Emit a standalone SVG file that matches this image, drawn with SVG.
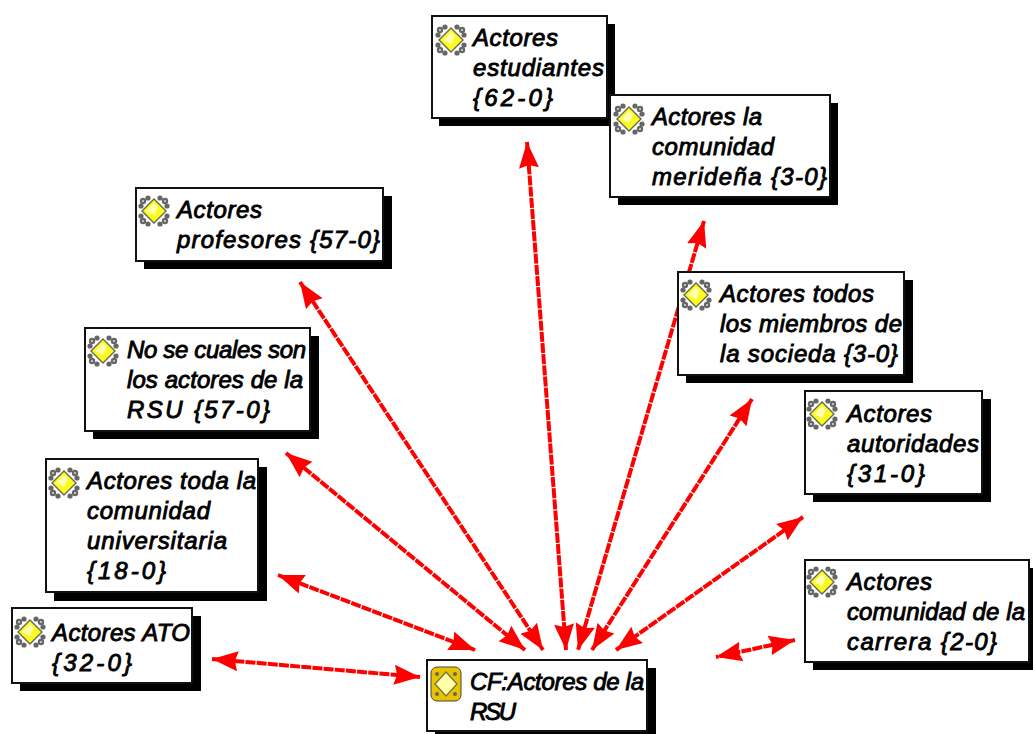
<svg xmlns="http://www.w3.org/2000/svg" width="1033" height="734" viewBox="0 0 1033 734">
<style>
.b{fill:#fff;stroke:#111;stroke-width:2}
.s{fill:#000}
text{font-family:"Liberation Sans",Arial,sans-serif;font-style:italic;font-size:24px;fill:#000;stroke:#000;stroke-width:.9px;lengthAdjust:spacing}
.c{fill:none;stroke:#f00;stroke-width:4;stroke-dasharray:10 1.2;marker-start:url(#a);marker-end:url(#a)}
</style>
<defs>
<marker id="a" markerUnits="userSpaceOnUse" markerWidth="30" markerHeight="24" refX="26" refY="12" orient="auto-start-reverse"><path d="M0 2 L26 12 L0 22 L3 12Z" fill="#f00"/></marker>
<g id="i"><g fill="#666"><circle cx="-11" cy="-10" r="3.2"/><circle cx="11" cy="-10" r="3.2"/><circle cx="-11" cy="10" r="3.2"/><circle cx="11" cy="10" r="3.2"/><circle cx="-6" cy="-13" r="2.6"/><circle cx="6" cy="-13" r="2.6"/><circle cx="-6" cy="13" r="2.6"/><circle cx="6" cy="13" r="2.6"/><circle cx="-13" cy="-5" r="2.6"/><circle cx="13" cy="-5" r="2.6"/><circle cx="-13" cy="5" r="2.6"/><circle cx="13" cy="5" r="2.6"/></g><g fill="#ddd"><circle cx="-11" cy="-10" r="1"/><circle cx="11" cy="-10" r="1"/><circle cx="-11" cy="10" r="1"/><circle cx="11" cy="10" r="1"/></g><path d="M0-12 L12 0 L0 12 L-12 0Z" fill="#fbfb20" stroke="#665" stroke-width="1.4"/><path d="M0-8 L-8 0 L0 4 L4-4Z" fill="#ffffb0"/></g>
<g id="j"><rect x="-15" y="-17" width="30" height="34" rx="6" fill="#e8c400" stroke="#443"/><g fill="#665"><circle cx="-9" cy="-10" r="2"/><circle cx="9" cy="-10" r="2"/><circle cx="-9" cy="10" r="2"/><circle cx="9" cy="10" r="2"/></g><path d="M0-12 L11 0 L0 12 L-11 0Z" fill="#ffffa8" stroke="#774" stroke-width="1.4"/></g>
</defs>
<g id="connectors">
<path class="c" d="M212 659L420 677"/>
<path class="c" d="M278 575L475 650"/>
<path class="c" d="M286 453L525 650"/>
<path class="c" d="M300 282L543 650"/>
<path class="c" d="M527 142L566 650"/>
<path class="c" d="M704 221L578 650"/>
<path class="c" d="M752 399L592 650"/>
<path class="c" d="M803 517L616 650"/>
<path class="c" d="M795 640L716 657"/>
</g>
<g id="n1"><rect class="s" x="439" y="24" width="176" height="102"/><rect class="b" x="432" y="16" width="175" height="102"/><use href="#i" x="451" y="40"/><text x="473" y="46" textLength="85">Actores</text><text x="473" y="76" textLength="131">estudiantes</text><text x="473" y="106" textLength="80">{62-0}</text></g>
<g id="n2"><rect class="s" x="618" y="103" width="220" height="102"/><rect class="b" x="610" y="95" width="220" height="102"/><use href="#i" x="629" y="119"/><text x="652" y="125" textLength="110">Actores la</text><text x="652" y="155" textLength="122">comunidad</text><text x="652" y="185" textLength="175">merideña {3-0}</text></g>
<g id="n3"><rect class="s" x="144" y="196" width="248" height="73"/><rect class="b" x="136" y="188" width="247" height="73"/><use href="#i" x="154" y="211"/><text x="177" y="218" textLength="85">Actores</text><text x="177" y="248" textLength="203">profesores {57-0}</text></g>
<g id="n4"><rect class="s" x="93" y="336" width="226" height="103"/><rect class="b" x="85" y="328" width="225" height="103"/><use href="#i" x="103" y="351"/><text x="127" y="358" textLength="179">No se cuales son</text><text x="127" y="388" textLength="176">los actores de la</text><text x="127" y="418" textLength="143">RSU {57-0}</text></g>
<g id="n5"><rect class="s" x="54" y="467" width="213" height="134"/><rect class="b" x="46" y="459" width="212" height="133"/><use href="#i" x="64" y="483"/><text x="87" y="489" textLength="169">Actores toda la</text><text x="87" y="519" textLength="123">comunidad</text><text x="87" y="549" textLength="140">universitaria</text><text x="87" y="579" textLength="79">{18-0}</text></g>
<g id="n6"><rect class="s" x="20" y="616" width="181" height="75"/><rect class="b" x="12" y="608" width="180" height="75"/><use href="#i" x="30" y="632"/><text x="52" y="641" textLength="138">Actores ATO</text><text x="52" y="671" textLength="80">{32-0}</text></g>
<g id="n7"><rect class="s" x="435" y="668" width="221" height="66"/><rect class="b" x="427" y="660" width="220" height="71"/><use href="#j" x="446" y="684"/><text x="470" y="690" textLength="174">CF:Actores de la</text><text x="470" y="720" textLength="46">RSU</text></g>
<g id="n8"><rect class="s" x="686" y="280" width="227" height="103"/><rect class="b" x="678" y="272" width="226" height="103"/><use href="#i" x="696" y="295"/><text x="720" y="302" textLength="154">Actores todos</text><text x="720" y="332" textLength="182">los miembros de</text><text x="720" y="362" textLength="178">la socieda {3-0}</text></g>
<g id="n9"><rect class="s" x="813" y="399" width="178" height="103"/><rect class="b" x="805" y="391" width="177" height="103"/><use href="#i" x="822" y="414"/><text x="847" y="422" textLength="85">Actores</text><text x="847" y="452" textLength="132">autoridades</text><text x="847" y="482" textLength="78">{31-0}</text></g>
<g id="n10"><rect class="s" x="813" y="568" width="220" height="102"/><rect class="b" x="805" y="560" width="224" height="102"/><use href="#i" x="822" y="582"/><text x="847" y="590" textLength="85">Actores</text><text x="847" y="620" textLength="178">comunidad de la</text><text x="847" y="650" textLength="150">carrera {2-0}</text></g>
</svg>
